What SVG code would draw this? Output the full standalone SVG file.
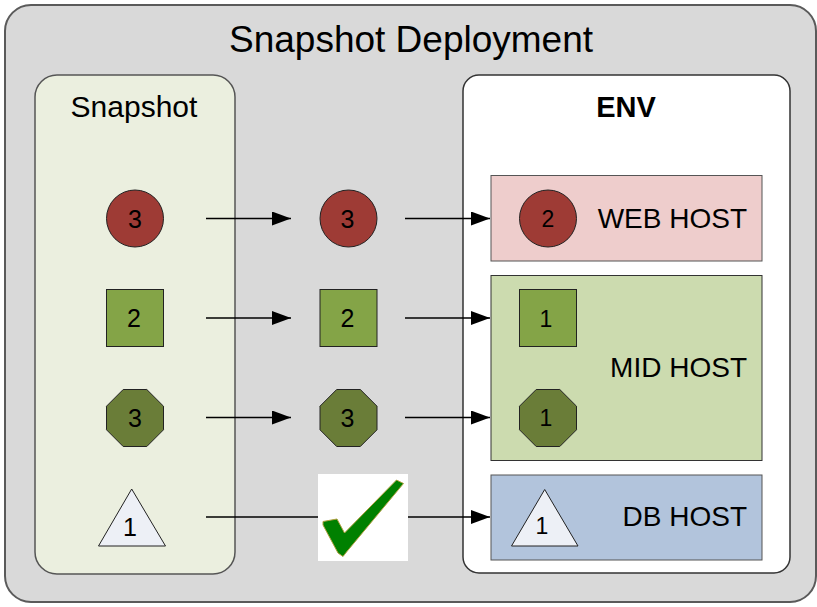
<svg xmlns="http://www.w3.org/2000/svg" width="817" height="607" viewBox="0 0 817 607">
<defs>
<style>
text{font-family:"Liberation Sans",Arial,sans-serif;fill:#000}
.num{font-size:25px;text-anchor:middle}
.hnum{font-size:23px;text-anchor:middle}
.host{font-size:28px;text-anchor:end}
.red{fill:#9e3b35;stroke:#222;stroke-width:1}
.sq{fill:#84a447;stroke:#222;stroke-width:1}
.oct{fill:#6a7d38;stroke:#222;stroke-width:1}
.tri{fill:#edf0f6;stroke:#222;stroke-width:1}
.conn{stroke:#000;stroke-width:1.3;fill:none}
</style>
<marker id="ah" viewBox="0 0 19 14" refX="19" refY="7" markerWidth="19" markerHeight="14" markerUnits="userSpaceOnUse" orient="auto">
<path d="M0,0 L19,7 L0,14 Z" fill="#000"/>
</marker>
</defs>
<g id="deployment">
<rect x="5" y="5" width="811" height="597" rx="26" fill="#d9d9d9" stroke="#5a5a5a" stroke-width="2"/>
<text x="411" y="52" font-size="37" text-anchor="middle">Snapshot Deployment</text>
</g>
<g id="snapshot">
<rect x="35" y="75" width="200" height="499" rx="22" fill="#ebefdf" stroke="#555" stroke-width="1.5"/>
<text x="134" y="117" font-size="30" text-anchor="middle">Snapshot</text>
</g>
<g id="env">
<rect x="463" y="75" width="327" height="498" rx="16" fill="#fff" stroke="#333" stroke-width="1.5"/>
<text x="626" y="117" font-size="29" font-weight="bold" text-anchor="middle">ENV</text>
</g>
<g id="web-host">
<rect x="491" y="175.5" width="271" height="85.5" fill="#eecdcc" stroke="#555" stroke-width="1"/>
<circle class="red" cx="548" cy="218.5" r="28.5"/>
<text class="hnum" x="548" y="226.5">2</text>
<text class="host" x="747" y="228">WEB HOST</text>
</g>
<g id="mid-host">
<rect x="491" y="275.5" width="271" height="185" fill="#ccdbaf" stroke="#333" stroke-width="1"/>
<rect class="sq" x="519.5" y="289.5" width="57" height="57"/>
<text class="hnum" x="546" y="326.5">1</text>
<polygon class="oct" points="536.2,389.5 559.8,389.5 576.5,406.2 576.5,429.8 559.8,446.5 536.2,446.5 519.5,429.8 519.5,406.2"/>
<text class="hnum" x="546" y="426">1</text>
<text class="host" x="747" y="377">MID HOST</text>
</g>
<g id="db-host">
<rect x="491" y="475" width="271" height="85" fill="#b2c4dc" stroke="#555" stroke-width="1"/>
<polygon class="tri" points="544.7,489.5 578,546 511.5,546"/>
<text class="hnum" x="542" y="534">1</text>
<text class="host" x="747" y="526">DB HOST</text>
</g>
<g id="snap-web">
<circle class="red" cx="135" cy="218.5" r="28.5"/>
<text class="num" x="135" y="227.5">3</text>
</g>
<g id="snap-mid">
<rect class="sq" x="106.5" y="289.5" width="57" height="57"/>
<text class="num" x="134" y="327">2</text>
</g>
<g id="snap-oct">
<polygon class="oct" points="123.2,389.5 146.8,389.5 163.5,406.2 163.5,429.8 146.8,446.5 123.2,446.5 106.5,429.8 106.5,406.2"/>
<text class="num" x="135" y="426.5">3</text>
</g>
<g id="snap-db">
<polygon class="tri" points="131.7,489 165.5,546 98.5,546"/>
<text class="num" x="130" y="536">1</text>
</g>
<g id="stage-web">
<circle class="red" cx="348.5" cy="218.5" r="28.5"/>
<text class="num" x="347.5" y="227.5">3</text>
</g>
<g id="stage-mid">
<rect class="sq" x="320" y="289.5" width="57" height="57"/>
<text class="num" x="347.5" y="327">2</text>
</g>
<g id="stage-oct">
<polygon class="oct" points="336.7,389.5 360.3,389.5 377,406.2 377,429.8 360.3,446.5 336.7,446.5 320,429.8 320,406.2"/>
<text class="num" x="347.5" y="426.5">3</text>
</g>
<g id="stage-db">
<rect x="318" y="474" width="90" height="87" fill="#fff"/>
<polygon points="323,521.5 337,519 344.5,533 396.5,480 403.5,483.5 346.5,552 343,556.5 338,553 323,525" fill="#008000" stroke="#b0a040" stroke-width="1" stroke-linejoin="round"/>
</g>
<g id="connectors">
<line class="conn" x1="206" y1="218.5" x2="291" y2="218.5" marker-end="url(#ah)"/>
<line class="conn" x1="405" y1="218.5" x2="490" y2="218.5" marker-end="url(#ah)"/>
<line class="conn" x1="206" y1="318" x2="291" y2="318" marker-end="url(#ah)"/>
<line class="conn" x1="405" y1="318" x2="490" y2="318" marker-end="url(#ah)"/>
<line class="conn" x1="206" y1="417.5" x2="291" y2="417.5" marker-end="url(#ah)"/>
<line class="conn" x1="405" y1="417.5" x2="490" y2="417.5" marker-end="url(#ah)"/>
<line class="conn" x1="206" y1="517" x2="318" y2="517"/>
<line class="conn" x1="408" y1="517" x2="490" y2="517" marker-end="url(#ah)"/>
</g>
</svg>
